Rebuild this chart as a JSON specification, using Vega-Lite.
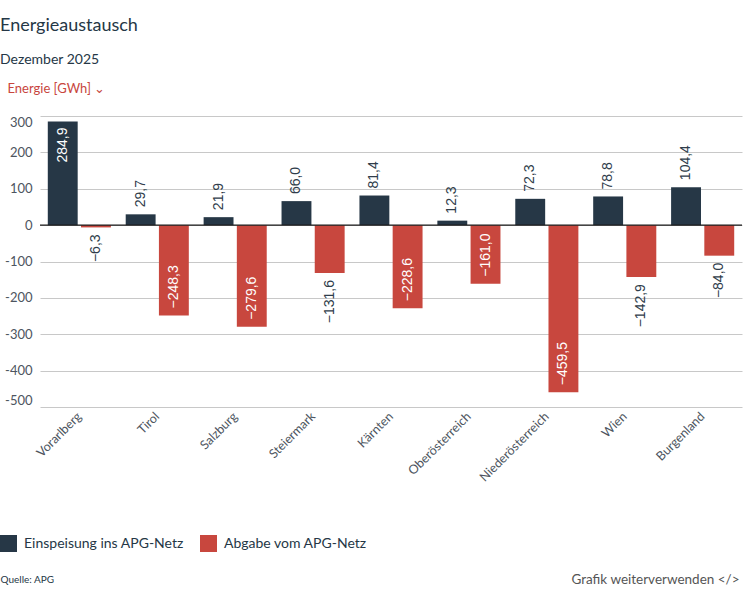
{
  "$schema": "https://vega.github.io/schema/vega-lite/v6.json",
  "width": 702,
  "height": 291,
  "autosize": {"type": "none"},
  "padding": {"left": 40, "top": 116, "right": 8, "bottom": 193},
  "background": "white",
  "config": {
    "locale": {"number": {"decimal": ",", "thousands": ".", "grouping": [3], "currency": ["", " €"]}},
    "view": {"stroke": null},
    "font": "Lato"
  },
  "title": {
    "text": "Energieaustausch",
    "subtitle": "Dezember 2025",
    "anchor": "start",
    "frame": "group",
    "dx": -40,
    "fontSize": 18,
    "fontWeight": "normal",
    "color": "#253746",
    "subtitleFontSize": 14,
    "subtitleFontWeight": "normal",
    "subtitleColor": "#253746",
    "subtitlePadding": 18,
    "offset": 15
  },
  "resolve": {"axis": {"y": "independent"}},
  "layer": [
    {
      "data": {
        "values": [
          {"region": "Vorarlberg", "serie": "Einspeisung ins APG-Netz", "value": 284.9},
          {"region": "Vorarlberg", "serie": "Abgabe vom APG-Netz", "value": -6.3},
          {"region": "Tirol", "serie": "Einspeisung ins APG-Netz", "value": 29.7},
          {"region": "Tirol", "serie": "Abgabe vom APG-Netz", "value": -248.3},
          {"region": "Salzburg", "serie": "Einspeisung ins APG-Netz", "value": 21.9},
          {"region": "Salzburg", "serie": "Abgabe vom APG-Netz", "value": -279.6},
          {"region": "Steiermark", "serie": "Einspeisung ins APG-Netz", "value": 66.0},
          {"region": "Steiermark", "serie": "Abgabe vom APG-Netz", "value": -131.6},
          {"region": "Kärnten", "serie": "Einspeisung ins APG-Netz", "value": 81.4},
          {"region": "Kärnten", "serie": "Abgabe vom APG-Netz", "value": -228.6},
          {"region": "Oberösterreich", "serie": "Einspeisung ins APG-Netz", "value": 12.3},
          {"region": "Oberösterreich", "serie": "Abgabe vom APG-Netz", "value": -161.0},
          {"region": "Niederösterreich", "serie": "Einspeisung ins APG-Netz", "value": 72.3},
          {"region": "Niederösterreich", "serie": "Abgabe vom APG-Netz", "value": -459.5},
          {"region": "Wien", "serie": "Einspeisung ins APG-Netz", "value": 78.8},
          {"region": "Wien", "serie": "Abgabe vom APG-Netz", "value": -142.9},
          {"region": "Burgenland", "serie": "Einspeisung ins APG-Netz", "value": 104.4},
          {"region": "Burgenland", "serie": "Abgabe vom APG-Netz", "value": -84.0}
        ]
      },
      "encoding": {
        "x": {
          "field": "region",
          "type": "nominal",
          "sort": null,
          "scale": {"paddingInner": 0.19, "paddingOuter": 0.1},
          "axis": {
            "title": "Quelle: APG",
            "titleX": -40,
            "titleY": 172,
            "titleAlign": "left",
            "titleBaseline": "middle",
            "titleFontSize": 10,
            "titleFontWeight": "normal",
            "titleColor": "#253746",
            "labelAngle": -45,
            "labelAlign": "right",
            "labelBaseline": "middle",
            "labelPadding": 7,
            "ticks": false,
            "domain": false,
            "labelFontSize": 12.5,
            "labelColor": "#4d5560"
          }
        },
        "xOffset": {
          "field": "serie",
          "type": "nominal",
          "scale": {"domain": ["Einspeisung ins APG-Netz", "Abgabe vom APG-Netz"], "paddingInner": 0.1, "paddingOuter": 0}
        },
        "y": {
          "field": "value",
          "type": "quantitative",
          "scale": {"domain": [-500, 300], "nice": false},
          "axis": {
            "title": "Energie [GWh] ⌄",
            "titleAngle": 0,
            "titleX": -33,
            "titleY": -28,
            "titleAlign": "left",
            "titleBaseline": "middle",
            "titleColor": "#c8463d",
            "titleFontSize": 13,
            "titleFontWeight": "normal",
            "values": [-500, -400, -300, -200, -100, 0, 100, 200, 300],
            "labelFlush": true,
            "labelPadding": 8,
            "ticks": false,
            "domain": false,
            "grid": true,
            "gridColor": "#c8c8c8",
            "labelFontSize": 13,
            "labelColor": "#4d5560",
            "labelExpr": "replace(datum.label, '−', '-')"
          }
        }
      },
      "layer": [
        {
          "mark": {"type": "bar"},
          "encoding": {
            "color": {
              "field": "serie",
              "type": "nominal",
              "scale": {"domain": ["Einspeisung ins APG-Netz", "Abgabe vom APG-Netz"], "range": ["#263746", "#c8473e"]},
              "legend": {
                "orient": "none",
                "legendX": -40,
                "legendY": 419,
                "direction": "horizontal",
                "title": null,
                "symbolType": "square",
                "symbolSize": 289,
                "symbolStrokeWidth": 0,
                "symbolOpacity": 1,
                "labelFontSize": 14,
                "labelColor": "#253746",
                "labelOffset": 7,
                "columnPadding": 16
              }
            }
          }
        },
        {
          "transform": [{"filter": "datum.value >= 0 && datum.value < 150"}],
          "mark": {"type": "text", "angle": 270, "align": "left", "baseline": "middle", "dx": 7, "font": "Liberation Sans", "fontSize": 14, "color": "#2f3d4b"},
          "encoding": {"text": {"field": "value", "type": "quantitative", "format": ".1f"}}
        },
        {
          "transform": [{"filter": "datum.value >= 150"}],
          "mark": {"type": "text", "angle": 270, "align": "right", "baseline": "middle", "dx": -6, "font": "Liberation Sans", "fontSize": 14, "color": "white"},
          "encoding": {"text": {"field": "value", "type": "quantitative", "format": ".1f"}}
        },
        {
          "transform": [{"filter": "datum.value < 0 && datum.value > -150"}],
          "mark": {"type": "text", "angle": 270, "align": "right", "baseline": "middle", "dx": -7, "font": "Liberation Sans", "fontSize": 14, "color": "#2f3d4b"},
          "encoding": {"text": {"field": "value", "type": "quantitative", "format": ".1f"}}
        },
        {
          "transform": [{"filter": "datum.value <= -150"}],
          "mark": {"type": "text", "angle": 270, "align": "left", "baseline": "middle", "dx": 7, "font": "Liberation Sans", "fontSize": 14, "color": "white"},
          "encoding": {"text": {"field": "value", "type": "quantitative", "format": ".1f"}}
        }
      ]
    },
    {
      "data": {"values": [{"zero": 0}]},
      "mark": {"type": "rule", "color": "#1a1a1a", "strokeWidth": 1.2},
      "encoding": {
        "y": {
          "field": "zero",
          "type": "quantitative",
          "axis": {
            "orient": "right",
            "title": "Grafik weiterverwenden </>",
            "titleAngle": 0,
            "titleX": -87,
            "titleY": 463,
            "titleAlign": "center",
            "titleBaseline": "middle",
            "titleFontSize": 13.5,
            "titleFontWeight": "normal",
            "titleColor": "#555555",
            "labels": false,
            "ticks": false,
            "domain": false,
            "grid": false
          }
        }
      }
    }
  ]
}
